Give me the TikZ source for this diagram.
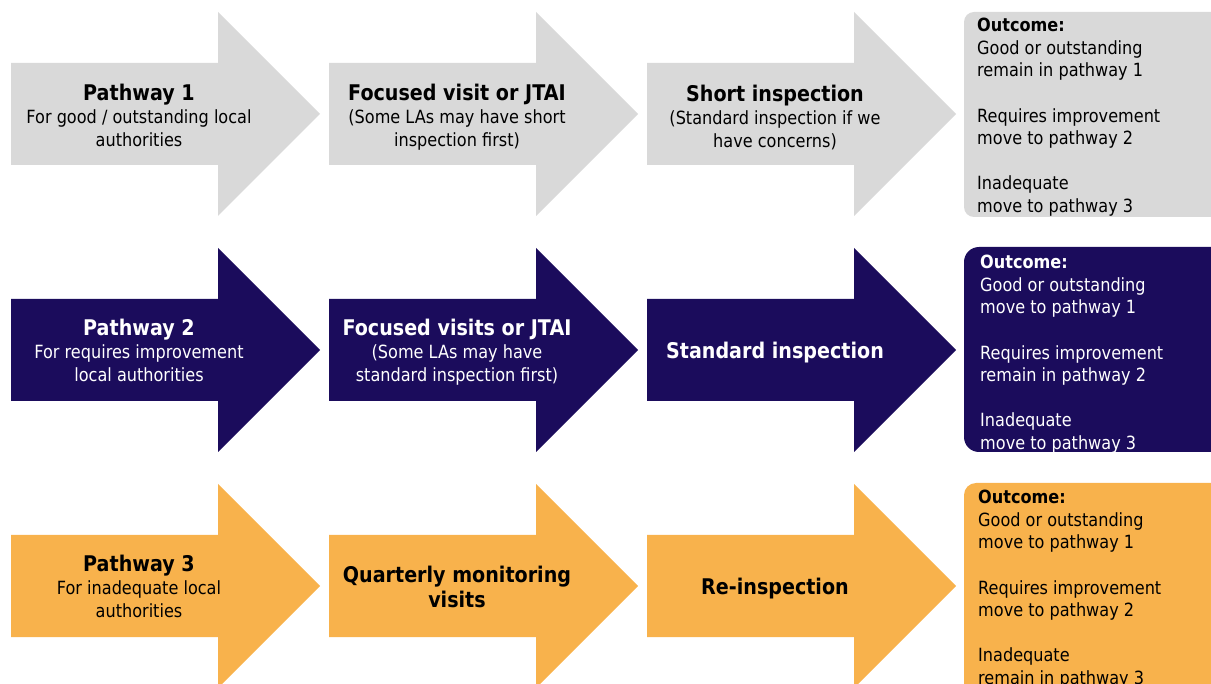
\documentclass[tikz,border=0pt]{standalone}
\usepackage{fontspec}
\setmainfont{DejaVu Sans}[FakeStretch=0.885]
\definecolor{pgray}{HTML}{D9D9D9}
\definecolor{pnavy}{HTML}{1B0C5C}
\definecolor{porange}{HTML}{F8B24C}
\tikzset{
  arrtext/.style={align=center, inner sep=0pt, font=\fontsize{18.2}{23}\selectfont},
  arrbold/.style={align=center, inner sep=0pt, font=\fontsize{21.6}{25}\selectfont\bfseries},
  outtext/.style={align=left, inner sep=0pt, anchor=north west, font=\fontsize{18.2}{22.6}\selectfont},
  outbox/.style={rounded corners=#1},
}
\newcommand{\hd}[1]{{\fontsize{21.6}{23}\selectfont\bfseries #1}}
\newcommand{\pwarrow}[3]{%
  \fill[#3] (#1,#2-51) -- ++(207,0) -- ++(0,-51) -- ++(102,102) -- ++(-102,102)
    -- ++(0,-51) -- ++(-207,0) -- cycle;}
\begin{document}
\begin{tikzpicture}[x=1pt,y=-1pt]
\path[use as bounding box] (0,0) rectangle (1211,684);
\clip (0,0) rectangle (1211,684);
% Row 1
\pwarrow{11}{114}{pgray}
\pwarrow{329}{114}{pgray}
\pwarrow{647}{114}{pgray}
\fill[pgray, outbox=10] (964,12) rectangle (1240,217);
\node[arrtext] (a11) at (139,115) {\hd{Pathway 1}\\For good / outstanding local\\authorities};
\node[arrtext] (a12) at (457,117) {\hd{Focused visit or JTAI}\\(Some LAs may have short\\inspection first)};
\node[arrtext] (a13) at (775,117) {\hd{Short inspection}\\(Standard inspection if we\\have concerns)};
\node[outtext] (o1) at (977,18) {\textbf{Outcome:}\\Good or outstanding\\remain in pathway 1\\[22.6pt]Requires improvement\\move to pathway 2\\[22.6pt]Inadequate\\move to pathway 3};
% Row 2
\pwarrow{11}{350}{pnavy}
\pwarrow{329}{350}{pnavy}
\pwarrow{647}{350}{pnavy}
\fill[pnavy, outbox=15] (964,247) rectangle (1240,452);
\node[arrtext, text=white] (a21) at (139,350.5) {\hd{Pathway 2}\\For requires improvement\\local authorities};
\node[arrtext, text=white] (a22) at (457,352.5) {\hd{Focused visits or JTAI}\\(Some LAs may have\\standard inspection first)};
\node[arrbold, text=white] (a23) at (775,353) {Standard inspection};
\node[outtext, text=white] (o2) at (980,255) {\textbf{Outcome:}\\Good or outstanding\\move to pathway 1\\[22.6pt]Requires improvement\\remain in pathway 2\\[22.6pt]Inadequate\\move to pathway 3};
% Row 3
\pwarrow{11}{586}{porange}
\pwarrow{329}{586}{porange}
\pwarrow{647}{586}{porange}
\fill[porange, outbox=12] (964,483) rectangle (1240,720);
\node[arrtext] (a31) at (139,586.5) {\hd{Pathway 3}\\For inadequate local\\authorities};
\node[arrbold] (a32) at (457,586.5) {Quarterly monitoring\\visits};
\node[arrbold] (a33) at (775,589) {Re-inspection};
\node[outtext] (o3) at (978,490) {\textbf{Outcome:}\\Good or outstanding\\move to pathway 1\\[22.6pt]Requires improvement\\move to pathway 2\\[22.6pt]Inadequate\\remain in pathway 3};
\end{tikzpicture}
\end{document}
